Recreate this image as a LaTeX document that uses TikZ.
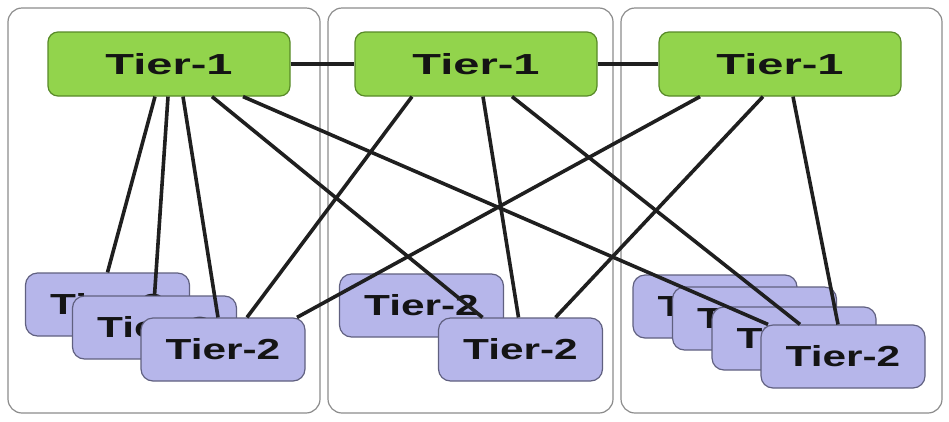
\documentclass[tikz,border=0pt]{standalone}
\usepackage{fontspec}
\setmainfont{Liberation Sans}
\usepackage{graphicx}
\usepackage{tikz}
\usetikzlibrary{calc}
\definecolor{TierOneFill}{RGB}{146,212,76}
\definecolor{TierOneEdge}{RGB}{88,138,40}
\definecolor{TierTwoFill}{RGB}{182,182,234}
\definecolor{TierTwoEdge}{RGB}{96,96,128}
\definecolor{PanelEdge}{RGB}{140,140,140}
\newcommand{\wideone}[1]{\scalebox{1.62}[1]{#1}}
\newcommand{\widetwo}[1]{\raisebox{-2pt}{\scalebox{1.46}[1]{#1}}}
\tikzset{
  panelbox/.style={draw=PanelEdge,line width=1.2pt,rounded corners=14pt},
  tierone/.style={draw=TierOneEdge,line width=1.2pt,rounded corners=10pt,fill=TierOneFill,
    minimum width=242pt,minimum height=64pt,inner sep=0pt,text=black!92,
    font=\fontsize{29}{31}\selectfont\bfseries},
  tiertwo/.style={draw=TierTwoEdge,line width=1.2pt,rounded corners=12pt,fill=TierTwoFill,
    minimum width=164pt,minimum height=63pt,inner sep=0pt,text=black!92,
    font=\fontsize{29}{31}\selectfont\bfseries},
  link/.style={draw=black!88,line width=3.6pt},
}
\begin{document}
\begin{tikzpicture}[x=1pt,y=-1pt]
  \useasboundingbox (0,0) rectangle (949,421);
  % panels
  \draw[panelbox] (8,8) rectangle (320,413);
  \draw[panelbox] (328,8) rectangle (613,413);
  \draw[panelbox] (621,8) rectangle (942,413);

  \node[tierone] (t1a) at (169,64) {\wideone{Tier-1}};
  \node[tierone] (t1b) at (476,64) {\wideone{Tier-1}};
  \node[tierone] (t1c) at (780,64) {\wideone{Tier-1}};
  \draw[link] (t1a) -- (t1b);
  \draw[link] (t1b) -- (t1c);

  % left stack
  \node[tiertwo] (t2a) at (107.5,304.5) {\widetwo{Tier-2}};
  \node[tiertwo] (t2b) at (154.5,327.5) {\widetwo{Tier-2}};
  \node[tiertwo] (t2c) at (223,349.5) {\widetwo{Tier-2}};
  % middle stack
  \node[tiertwo] (t2d) at (421.5,305.5) {\widetwo{Tier-2}};
  \node[tiertwo] (t2e) at (520.5,349.5) {\widetwo{Tier-2}};
  % right stack
  \node[tiertwo] (t2f) at (715,306.5) {\widetwo{Tier-2}};
  \node[tiertwo] (t2g) at (754.5,318.5) {\widetwo{Tier-2}};
  \node[tiertwo] (t2h) at (794,338.5) {\widetwo{Tier-2}};
  \node[tiertwo] (t2i) at (843,356.5) {\widetwo{Tier-2}};

  \draw[link] ([xshift=-14pt]t1a.south) -- (t2a.north);
  \draw[link] ([xshift=-1pt]t1a.south) -- (t2b.north);
  \draw[link] ([xshift=14pt]t1a.south) -- ([xshift=-5pt]t2c.north);
  \draw[link] ([xshift=43pt]t1a.south) -- ([xshift=-38pt]t2e.north);
  \draw[link] ([xshift=74pt]t1a.south) -- ([xshift=-75pt]t2i.north);

  \draw[link] ([xshift=-64pt]t1b.south) -- ([xshift=24pt]t2c.north);
  \draw[link] ([xshift=7pt]t1b.south) -- ([xshift=-2pt]t2e.north);
  \draw[link] ([xshift=36pt]t1b.south) -- ([xshift=-43pt]t2i.north);

  \draw[link] ([xshift=-80pt]t1c.south) -- ([xshift=74pt]t2c.north);
  \draw[link] ([xshift=-17pt]t1c.south) -- ([xshift=35pt]t2e.north);
  \draw[link] ([xshift=13pt]t1c.south) -- ([xshift=-5pt]t2i.north);
\end{tikzpicture}
\end{document}
